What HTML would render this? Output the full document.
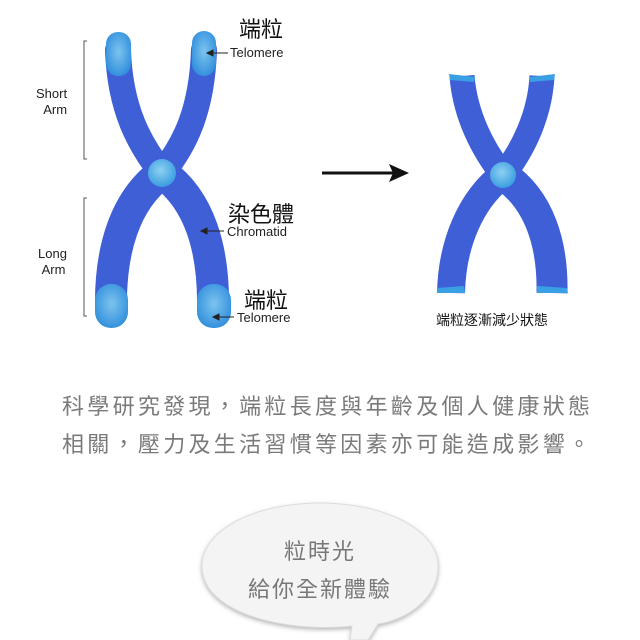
<!DOCTYPE html>
<html><head><meta charset="utf-8"><style>
html,body{margin:0;padding:0;background:#fff;}
body{width:640px;height:640px;position:relative;overflow:hidden;font-family:"Liberation Sans","Noto Sans CJK TC",sans-serif;}
.t{position:absolute;white-space:nowrap;}
.p{font-size:22px;color:#7a7a7a;letter-spacing:3.3px;left:62px;}
</style></head><body>
<svg width="640" height="640" style="position:absolute;left:0;top:0">
<defs>
<radialGradient id="tel" cx="50%" cy="45%" r="60%"><stop offset="0" stop-color="#7cc4ee"/><stop offset="1" stop-color="#2f8ddc"/></radialGradient>
<radialGradient id="cen" cx="45%" cy="40%" r="60%"><stop offset="0" stop-color="#8fd0f2"/><stop offset="1" stop-color="#3a9ee0"/></radialGradient>
<filter id="sh" x="-20%" y="-20%" width="140%" height="150%"><feDropShadow dx="0" dy="2" stdDeviation="2" flood-color="#888" flood-opacity="0.6"/></filter>
</defs>
<!-- brackets -->
<g stroke="#555" stroke-width="1" fill="none">
<path d="M87 41 H84 V159 H87"/><path d="M87 198 H84 V316 H87"/>
</g>
<!-- left chromosome -->
<g fill="none" stroke="#3f5fd6" stroke-linecap="round">
<path d="M118 50 C120 110 140 145 162 173" stroke-width="26"/>
<path d="M204 50 C202 110 185 145 162 173" stroke-width="26"/>
<path d="M162 173 C125 200 110 250 111 308" stroke-width="32"/>
<path d="M162 173 C200 200 214 250 213 308" stroke-width="32"/>
</g>
<g fill="url(#tel)">
<rect x="106" y="32" width="25" height="44" rx="12"/>
<rect x="192" y="31" width="24" height="45" rx="12"/>
<rect x="95" y="284" width="33" height="44" rx="16"/>
<rect x="197" y="284" width="34" height="44" rx="16"/>
</g>
<circle cx="162" cy="173" r="14" fill="url(#cen)"/>
<!-- left arrows -->
<g stroke="#222" stroke-width="1" fill="#222">
<path d="M212 53 H228"/><path d="M207 53 l6 -3 v6z"/>
<path d="M206 231 H224"/><path d="M201 231 l6 -3 v6z"/>
<path d="M218 317 H234"/><path d="M213 317 l6 -3 v6z"/>
</g>
<!-- big arrow -->
<path d="M322 173 H395" stroke="#111" stroke-width="3"/>
<path d="M409 173 L389 164 L393 173 L389 182Z" fill="#111"/>
<!-- right chromosome -->
<g fill="none" stroke="#3f5fd6" stroke-linecap="butt">
<path d="M462 76 C465 115 483 150 503 175" stroke-width="25"/>
<path d="M542 76 C540 115 523 150 503 175" stroke-width="25"/>
<path d="M503 175 C470 200 452 245 451 293" stroke-width="28"/>
<path d="M503 175 C540 200 553 245 552 293" stroke-width="31"/>
</g>
<g fill="#3aa0e4">
<path d="M449 74 L475 77 L474 82 L450 80Z"/><path d="M530 77 L555 74 L554 80 L530 82Z"/>
<path d="M437 288 L464 286 L465 293 L437 293Z"/><path d="M537 286 L567 288 L568 293 L537 293Z"/>
</g>
<circle cx="503" cy="175" r="13" fill="url(#cen)"/>
<!-- bubble -->
<g filter="url(#sh)">
<path d="M320 503 C385 503 438 530 438 566 C438 600 405 620 378 624 L368 640 L350 640 L352 626 C335 628 310 628 290 625 C240 618 202 598 202 566 C202 530 255 503 320 503Z" fill="#f4f4f4" stroke="#ddd" stroke-width="1"/>
</g>
</svg>
<div class="t" style="left:239px;top:12px;font-size:22px;color:#111;">端粒</div>
<div class="t" style="left:230px;top:45px;font-size:13px;color:#222;">Telomere</div>
<div class="t" style="left:36px;top:86px;font-size:13px;color:#222;text-align:right;line-height:16px;">Short<br>&nbsp;&nbsp;Arm</div>
<div class="t" style="left:38px;top:246px;font-size:13px;color:#222;line-height:16px;">Long<br>&nbsp;Arm</div>
<div class="t" style="left:228px;top:197px;font-size:22px;color:#111;">染色體</div>
<div class="t" style="left:227px;top:224px;font-size:13px;color:#222;">Chromatid</div>
<div class="t" style="left:244px;top:283px;font-size:22px;color:#111;">端粒</div>
<div class="t" style="left:237px;top:310px;font-size:13px;color:#222;">Telomere</div>
<div class="t" style="left:436px;top:310px;font-size:14px;color:#111;">端粒逐漸減少狀態</div>
<div class="t p" style="top:389px;">科學研究發現，端粒長度與年齡及個人健康狀態</div>
<div class="t p" style="top:427px;">相關，壓力及生活習慣等因素亦可能造成影響。</div>
<div class="t" style="left:0;width:640px;text-align:center;top:534px;font-size:22px;color:#777;letter-spacing:2px;">粒時光</div>
<div class="t" style="left:0;width:640px;text-align:center;top:572px;font-size:22px;color:#777;letter-spacing:2px;">給你全新體驗</div>
</body></html>
